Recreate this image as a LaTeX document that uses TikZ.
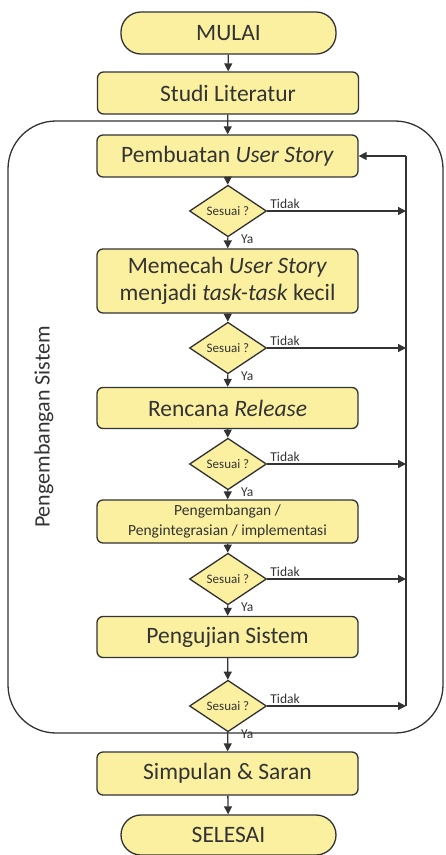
\documentclass[tikz,border=0pt]{standalone}
\usepackage{fontspec}
\setmainfont{Carlito}
\usetikzlibrary{shapes.geometric,arrows.meta,calc}
\definecolor{boxfill}{HTML}{FAF0A0}
\definecolor{ink}{HTML}{333333}
\tikzset{
  box/.style={draw=ink, fill=boxfill, line width=1.3pt, rounded corners=6pt, minimum width=261pt, text=ink, font=\fontsize{23.5}{27}\selectfont, align=center, inner sep=0pt},
  term/.style={box, rounded corners=20pt, minimum width=215pt, minimum height=42pt},
  dec/.style={draw=ink, fill=boxfill, line width=1.3pt, diamond, minimum width=77pt, minimum height=43pt, inner sep=0pt, text=ink, font=\fontsize{13}{15}\selectfont},
  lab/.style={text=ink, font=\fontsize{13.5}{15}\selectfont, inner sep=1pt},
  arr/.style={draw=ink, line width=1.3pt, -{Triangle[length=8pt,width=8pt]}},
  ln/.style={draw=ink, line width=1.3pt}
}
\begin{document}
\begin{tikzpicture}[x=1pt,y=-1pt]
\useasboundingbox (0,0) rectangle (445,855);
\node[draw=ink, line width=1.3pt, rounded corners=48pt, minimum width=435pt, minimum height=612pt, inner sep=0pt] (grp) at (225.5,427) {};
\node[text=ink, rotate=90, font=\fontsize{22}{24}\selectfont] (grplab) at (44,427) {Pengembangan Sistem};

\node[term] (mulai) at (228.5,33) {MULAI};
\node[box, minimum height=42pt] (studi) at (228,93) {Studi Literatur};
\node[box, minimum height=42pt] (b1) at (227.5,156) {Pembuatan \textit{User Story}};
\node[dec] (d1) at (228,211) {Sesuai ?};
\node[box, minimum height=64pt] (b2) at (227.5,281) {Memecah \textit{User Story}\\menjadi \textit{task-task} kecil};
\node[dec] (d2) at (228,348) {Sesuai ?};
\node[box, minimum height=41pt] (b3) at (227.5,408) {Rencana \textit{Release}};
\node[dec] (d3) at (228,464) {Sesuai ?};
\node[box, minimum height=43pt, font=\fontsize{15.5}{20}\selectfont] (b4) at (227.5,521.5) {Pengembangan /\\Pengintegrasian / implementasi};
\node[dec] (d4) at (228,579) {Sesuai ?};
\node[box, minimum height=41pt] (b5) at (227.5,637) {Pengujian Sistem};
\node[dec] (d5) at (228,706) {Sesuai ?};
\node[box, minimum height=43pt] (simp) at (227.5,773.5) {Simpulan \& Saran};
\node[term, minimum height=40pt] (sel) at (228.5,835) {SELESAI};

\coordinate (r1) at (406,211);
\coordinate (r2) at (406,348);
\coordinate (r3) at (406,464);
\coordinate (r4) at (406,579);
\coordinate (r5) at (406,706);
\coordinate (rt) at (406,156);

\draw[arr] (mulai) -- (studi);
\draw[arr] (studi) -- (b1);
\draw[arr] (b1) -- (d1);
\draw[arr] (d1) -- (b2);
\draw[arr] (b2) -- (d2);
\draw[arr] (d2) -- (b3);
\draw[arr] (b3) -- (d3);
\draw[arr] (d3) -- (b4);
\draw[arr] (b4) -- (d4);
\draw[arr] (d4) -- (b5);
\draw[arr] (b5) -- (d5);
\draw[arr] (d5) -- (simp);
\draw[arr] (simp) -- (sel);

\foreach \i in {1,...,5}{
  \draw[arr] (d\i.east) -- (r\i);
  \node[lab, anchor=south west] at ($(d\i.east)+(2,-1)$) {Tidak};
  \node[lab, anchor=north west] at ($(d\i.south)+(12,-4)$) {Ya};
}
\draw[ln] (r5) -- (rt);
\draw[arr] (rt) -- (b1.east);
\end{tikzpicture}
\end{document}
